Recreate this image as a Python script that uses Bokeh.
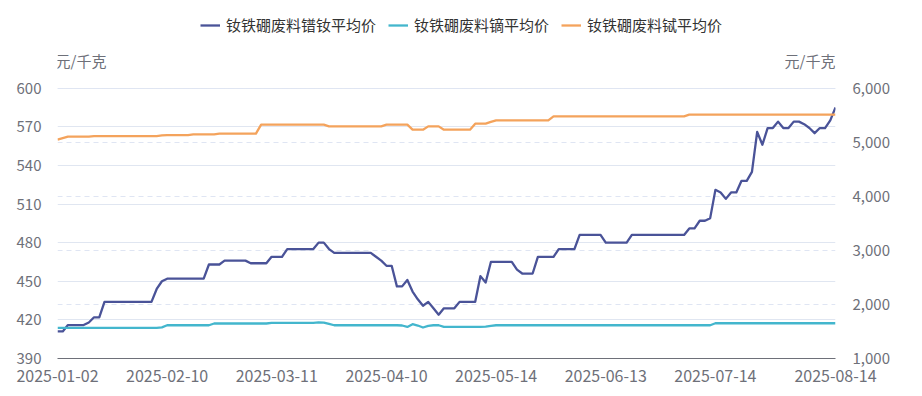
import pandas as pd
from bokeh.plotting import figure
from bokeh.models import (ColumnDataSource, Range1d, LinearAxis, FixedTicker,
                          Legend, LegendItem, Label, Grid, NumeralTickFormatter)
from bokeh.embed import file_html
from bokeh.resources import INLINE

# ---- category axis: trading days ----
holidays = ["2025-01-28", "2025-01-29", "2025-01-30", "2025-01-31",
            "2025-02-03", "2025-02-04", "2025-04-04", "2025-05-01",
            "2025-05-02", "2025-05-05", "2025-06-02"]
dates = [d.strftime("%Y-%m-%d") for d in pd.bdate_range("2025-01-02", "2025-08-14")
         if d.strftime("%Y-%m-%d") not in holidays]
label_dates = ["2025-01-02", "2025-02-10", "2025-03-11", "2025-04-10",
               "2025-05-14", "2025-06-13", "2025-07-14", "2025-08-14"]

# ---- series (元/千克) ----
prnd = [411, 411, 416, 416, 416, 416, 418, 422, 422, 434,
        434, 434, 434, 434, 434, 434, 434, 434, 434, 444,
        450, 452, 452, 452, 452, 452, 452, 452, 452, 463,
        463, 463, 466, 466, 466, 466, 466, 464, 464, 464,
        464, 469, 469, 469, 475, 475, 475, 475, 475, 475,
        480, 480, 475, 472, 472, 472, 472, 472, 472, 472,
        472, 469, 466, 462, 462, 446, 446, 451, 442, 436,
        431, 434, 429, 424, 429, 429, 429, 434, 434, 434,
        434, 454, 449, 465, 465, 465, 465, 465, 459, 456,
        456, 456, 469, 469, 469, 469, 475, 475, 475, 475,
        486, 486, 486, 486, 486, 480, 480, 480, 480, 480,
        486, 486, 486, 486, 486, 486, 486, 486, 486, 486,
        486, 491, 491, 497, 497, 499, 521, 519, 514, 519,
        519, 528, 528, 535, 566, 556, 569, 569, 574, 569,
        569, 574, 574, 572, 569, 565, 569, 569, 575, 585]

dy = [1565, 1565, 1565, 1565, 1565, 1565, 1565, 1565, 1565, 1565,
      1565, 1565, 1565, 1565, 1565, 1565, 1565, 1565, 1565, 1565,
      1575, 1615, 1615, 1615, 1615, 1615, 1615, 1615, 1615, 1615,
      1647, 1647, 1647, 1647, 1647, 1647, 1647, 1647, 1647, 1647,
      1647, 1660, 1660, 1660, 1660, 1660, 1660, 1660, 1660, 1660,
      1668, 1665, 1640, 1615, 1615, 1615, 1615, 1615, 1615, 1615,
      1615, 1615, 1615, 1615, 1615, 1615, 1610, 1584, 1634, 1610,
      1573, 1605, 1615, 1615, 1584, 1584, 1584, 1584, 1584, 1584,
      1584, 1584, 1590, 1605, 1615, 1615, 1615, 1615, 1615, 1615,
      1615, 1615, 1615, 1615, 1615, 1615, 1615, 1615, 1615, 1615,
      1615, 1615, 1615, 1615, 1615, 1615, 1615, 1615, 1615, 1615,
      1615, 1615, 1615, 1615, 1615, 1615, 1615, 1615, 1615, 1615,
      1615, 1615, 1615, 1615, 1615, 1615, 1652, 1652, 1652, 1652,
      1652, 1652, 1652, 1652, 1652, 1652, 1652, 1652, 1652, 1652,
      1652, 1652, 1652, 1652, 1652, 1652, 1652, 1652, 1652, 1652]

tb = [5047, 5075, 5103, 5103, 5103, 5103, 5103, 5114, 5114, 5114,
      5114, 5114, 5114, 5114, 5114, 5114, 5114, 5114, 5114, 5114,
      5125, 5132, 5132, 5132, 5132, 5132, 5145, 5145, 5145, 5145,
      5145, 5158, 5158, 5158, 5158, 5158, 5158, 5158, 5158, 5324,
      5324, 5324, 5324, 5324, 5324, 5324, 5324, 5324, 5324, 5324,
      5324, 5324, 5293, 5293, 5293, 5293, 5293, 5293, 5293, 5293,
      5293, 5293, 5293, 5324, 5324, 5324, 5324, 5324, 5232, 5232,
      5232, 5293, 5293, 5293, 5232, 5232, 5232, 5232, 5232, 5232,
      5343, 5343, 5343, 5375, 5404, 5404, 5404, 5404, 5404, 5404,
      5404, 5404, 5404, 5404, 5404, 5478, 5478, 5478, 5478, 5478,
      5478, 5478, 5478, 5478, 5478, 5478, 5478, 5478, 5478, 5478,
      5478, 5478, 5478, 5478, 5478, 5478, 5478, 5478, 5478, 5478,
      5478, 5509, 5509, 5509, 5509, 5509, 5509, 5509, 5509, 5509,
      5509, 5509, 5509, 5509, 5509, 5509, 5509, 5509, 5509, 5509,
      5509, 5509, 5509, 5509, 5509, 5509, 5509, 5509, 5509, 5509]

names = ["钕铁硼废料镨钕平均价", "钕铁硼废料镝平均价", "钕铁硼废料铽平均价"]
colors = ["#4a5398", "#43b6cd", "#f4a35c"]
left_ticks = [390, 420, 450, 480, 510, 540, 570, 600]
right_ticks = [1000, 2000, 3000, 4000, 5000, 6000]
unit = "元/千克"

FONT = "Noto Sans CJK SC"
TXT = "#6e7079"

# layout: plot area spans to the top of the canvas so header texts sit inside it
AXIS_H = 270.6      # px between lowest and highest tick
TOP_PAD = 87.7      # px above the highest tick
ext = TOP_PAD / AXIS_H
l_top = left_ticks[-1] + (left_ticks[-1] - left_ticks[0]) * ext
r_top = right_ticks[-1] + (right_ticks[-1] - right_ticks[0]) * ext

xs = list(range(len(dates)))
src = ColumnDataSource(dict(x=xs, prnd=prnd, dy=dy, tb=tb))
tick_idx = [dates.index(d) for d in label_dates]

W, H = 912, 388
p = figure(width=W, height=H, output_backend="svg", toolbar_location=None,
           x_range=Range1d(0, len(dates) - 1),
           y_range=Range1d(left_ticks[0], l_top),
           min_border_left=57, min_border_right=W - 835,
           min_border_top=0, min_border_bottom=H - 358)
p.extra_y_ranges = {"right": Range1d(right_ticks[0], r_top)}
p.outline_line_color = None
p.background_fill_color = "white"

# x axis
xa = p.xaxis[0]
xa.ticker = FixedTicker(ticks=tick_idx)
xa.major_label_overrides = {i: d for i, d in zip(tick_idx, label_dates)}
xa.major_tick_line_color = None
xa.minor_tick_line_color = None
xa.axis_line_color = TXT
xa.major_label_text_color = TXT
xa.major_label_text_font = FONT
xa.major_label_text_font_size = "16px"
xa.major_label_standoff = 5
p.xgrid.visible = False

# left y axis
ya = p.yaxis[0]
ya.ticker = FixedTicker(ticks=left_ticks)
ya.axis_line_color = None
ya.major_tick_line_color = None
ya.minor_tick_line_color = None
ya.major_label_text_color = TXT
ya.major_label_text_font = FONT
ya.major_label_text_font_size = "15px"
ya.major_label_standoff = 10
p.ygrid.ticker = FixedTicker(ticks=left_ticks)
p.ygrid.grid_line_color = "#e0e6f1"

# right y axis
ra = LinearAxis(y_range_name="right", ticker=FixedTicker(ticks=right_ticks),
                formatter=NumeralTickFormatter(format="0,0"))
ra.axis_line_color = None
ra.major_tick_line_color = None
ra.minor_tick_line_color = None
ra.major_label_text_color = TXT
ra.major_label_text_font = FONT
ra.major_label_text_font_size = "15px"
ra.major_label_standoff = 11
p.add_layout(ra, "right")
rg = Grid(dimension=1, ticker=FixedTicker(ticks=right_ticks), y_range_name="right",
          grid_line_color="#dfe5f3", grid_line_dash="5 4")
p.add_layout(rg)

r1 = p.line("x", "prnd", source=src, color=colors[0], line_width=2.3, line_join="round")
r2 = p.line("x", "dy", source=src, color=colors[1], line_width=2.3, line_join="round",
            y_range_name="right")
r3 = p.line("x", "tb", source=src, color=colors[2], line_width=2.3, line_join="round",
            y_range_name="right")

legend = Legend(items=[LegendItem(label=names[0], renderers=[r1]),
                       LegendItem(label=names[1], renderers=[r2]),
                       LegendItem(label=names[2], renderers=[r3])],
                location=(143, 358 - 35), orientation="horizontal",
                padding=0, margin=0, spacing=12, label_standoff=6,
                glyph_width=20, glyph_height=18, label_height=18,
                label_text_font=FONT, label_text_font_size="15px",
                label_text_color="#333333",
                background_fill_alpha=0, border_line_alpha=0)
p.add_layout(legend, "center")

p.add_layout(Label(x=0, y=left_ticks[-1], x_offset=-2, y_offset=28, text=unit,
                   text_align="left", text_baseline="middle", text_color=TXT,
                   text_font=FONT, text_font_size="15px"))
p.add_layout(Label(x=len(dates) - 1, y=right_ticks[-1], y_range_name="right",
                   x_offset=0, y_offset=28, text=unit,
                   text_align="right", text_baseline="middle", text_color=TXT,
                   text_font=FONT, text_font_size="15px"))

open("out.html", "w").write(file_html(p, INLINE))
